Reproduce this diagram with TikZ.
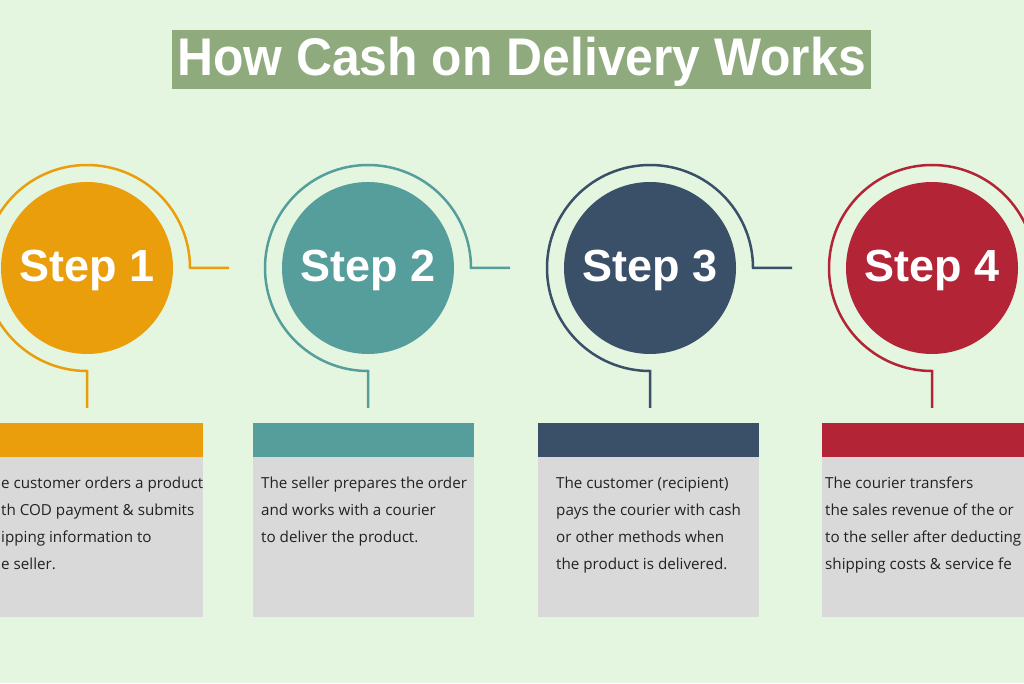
\documentclass[tikz,border=0pt]{standalone}
\usepackage{fontspec}
\setmainfont{Open Sans}
\newfontfamily\headfont{Liberation Sans}
\definecolor{bgc}{HTML}{E4F6E0}
\definecolor{titlebg}{HTML}{8FAA7D}
\definecolor{cone}{HTML}{EB9E0B}
\definecolor{ctwo}{HTML}{559E9C}
\definecolor{cthree}{HTML}{3A5068}
\definecolor{cfour}{HTML}{B22436}
\definecolor{boxgray}{HTML}{D9D9D9}
\definecolor{txt}{HTML}{222222}
\tikzset{
  disc/.style={circle, fill=#1, minimum size=172pt, inner sep=0pt},
  steplabel/.style={anchor=base, text=white, font=\headfont\bfseries\fontsize{45}{50}\selectfont, inner sep=0pt},
  ring/.style={draw=#1, line width=2.5pt},
  headbar/.style={anchor=north west, fill=#1, minimum width=221pt, minimum height=34pt, inner sep=0pt},
  bodybox/.style={anchor=north west, fill=boxgray, minimum width=221pt, minimum height=160pt, inner sep=0pt},
  bodytext/.style={anchor=north west, align=left, inner sep=0pt, text=txt, font=\fontsize{15.2}{26.9}\selectfont},
}
\begin{document}
\begin{tikzpicture}[x=1pt,y=1pt]
\useasboundingbox (0,0) rectangle (1024,683);
\clip (0,0) rectangle (1024,683);
\fill[bgc] (0,0) rectangle (1024,683);
% title
\node[fill=titlebg, minimum width=699pt, minimum height=59pt, inner sep=0pt] (title) at (521.5,623.5) {};
\node[text=white, font=\headfont\bfseries\fontsize{53}{60}\selectfont, inner sep=0pt, anchor=base] (titletext) at (521.5,607) {\scalebox{0.94}[1]{How Cash on Delivery Works}};
% steps
\foreach \i/\cx/\bx/\col/\tx/\txt in {
  1/87/-18/cone/1/{e customer orders a product\\th COD payment \& submits\\ipping information to\\e seller.},
  2/368/253/ctwo/261/{The seller prepares the order\\and works with a courier\\to deliver the product.},
  3/650/538/cthree/556/{The customer (recipient)\\pays the courier with cash\\or other methods when\\the product is delivered.},
  4/932/822/cfour/825/{The courier transfers\\the sales revenue of the or\\to the seller after deducting\\shipping costs \& service fe}}{
  \node[disc=\col] (c\i) at (\cx,415) {};
  \node[steplabel] (s\i) at (\cx,401) {Step \i};
  \coordinate (e\i) at (\cx+142,415);
  \coordinate (v\i) at (\cx,275);
  \draw[ring=\col] (e\i) -- (\cx+103,415) arc[start angle=0, end angle=270, radius=103pt] -- (v\i);
  \node[headbar=\col] (h\i) at (\bx,260) {};
  \node[bodybox] (b\i) at (\bx,226) {};
  \node[bodytext] (t\i) at (\tx,206) {\txt};
}
\end{tikzpicture}
\end{document}
